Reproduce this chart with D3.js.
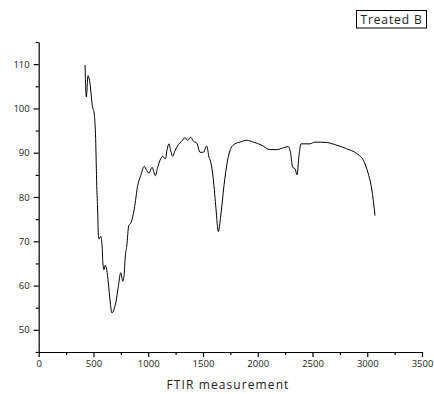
<!DOCTYPE html>
<html><head><meta charset="utf-8">
<script src="https://cdn.jsdelivr.net/npm/d3@7"></script>
<style>body{margin:0;background:#fff}svg{display:block}text{font-family:"Open Sans",sans-serif;fill:#222}</style>
</head><body><svg width="434" height="394"></svg>
<script>
const wavenumber = [423,435,450,468,489,508,520,530,539,544,551,566,581,584,596,608,621,636,651,669,681,706,727,749,767,779,791,804,822,843,873,904,931,964,986,1007,1035,1065,1083,1108,1132,1156,1174,1190,1205,1224,1245,1275,1306,1336,1360,1388,1412,1443,1473,1503,1534,1555,1573,1594,1619,1640,1662,1692,1722,1753,1792,1838,1899,1960,2036,2112,2173,2234,2279,2301,2319,2340,2359,2377,2395,2477,2523,2630,2721,2812,2904,2964,3010,3041,3071];
const transmittance = [109.8,102.6,107.4,105.7,100.7,98.5,93.2,82.6,76.6,71.6,70.5,71.1,68.2,65.9,63.6,64.6,63.6,60.6,56.8,53.8,54.2,56.4,59.8,62.9,61.0,62.1,66.7,68.9,73.5,74.2,77.3,82.6,84.8,86.9,86.0,85.4,86.7,84.8,86.4,88.3,89.2,88.6,90.9,92.0,90.5,89.2,90.5,91.8,92.6,93.4,92.8,93.5,92.6,92.2,90.1,90.1,91.5,89.0,87.7,84.1,77.3,72.2,75.7,82.6,87.9,90.9,92.0,92.4,92.8,92.4,91.7,90.7,90.7,91.1,91.4,89.8,86.7,86.4,85.0,89.4,92.0,92.0,92.4,92.3,91.7,90.9,89.8,88.3,85.2,81.8,75.8];
const xTicks = [0,500,1000,1500,2000,2500,3000,3500];
const yTicks = [50,60,70,80,90,100,110];
const xLabel = "FTIR measurement";
const seriesName = "Treated B";

const svg = d3.select("svg");
const x = d3.scaleLinear().domain([0,3500]).range([38.7,422]);
const y = d3.scaleLinear().domain([45,115]).range([352,42]);

const xMinor = d3.range(250,3500,500);
const yMinor = d3.range(45,116,10);

svg.append("g").attr("transform","translate(0,352)")
  .call(d3.axisBottom(x).tickValues(xMinor).tickSize(3).tickFormat(""))
  .call(g=>g.select(".domain").remove());
svg.append("g").attr("transform","translate(38.7,0)")
  .call(d3.axisLeft(y).tickValues(yMinor).tickSize(3).tickFormat(""))
  .call(g=>g.select(".domain").remove());

svg.append("g").attr("transform","translate(0,352)")
  .call(d3.axisBottom(x).tickValues(xTicks).tickSize(5).tickSizeOuter(0).tickPadding(3).tickFormat(d3.format("d")));
svg.append("g").attr("transform","translate(38.7,0)")
  .call(d3.axisLeft(y).tickValues(yTicks).tickSize(5).tickSizeOuter(0).tickPadding(4).tickFormat(d3.format("d")));
svg.selectAll(".tick text").style("font-size","9.5px").attr("fill","#222");
svg.selectAll(".domain,.tick line").attr("stroke","#000").attr("stroke-width",1.2);

svg.append("text").attr("x",228).attr("y",389).attr("text-anchor","middle")
  .style("font-size","12px").style("letter-spacing","1.1px").text(xLabel);

const line = d3.line().x((d,i)=>x(wavenumber[i])).y(d=>y(d)).curve(d3.curveMonotoneX);
svg.append("path").datum(transmittance).attr("d",line).attr("fill","none").attr("stroke","#000").attr("stroke-width",1);

svg.append("rect").attr("x",356.5).attr("y",10.5).attr("width",70).attr("height",17.5).attr("fill","none").attr("stroke","#000").attr("stroke-width",1);
svg.append("text").attr("x",391.5).attr("y",24).attr("text-anchor","middle").style("font-size","12px").style("letter-spacing","0.9px").text(seriesName);
</script></body></html>
